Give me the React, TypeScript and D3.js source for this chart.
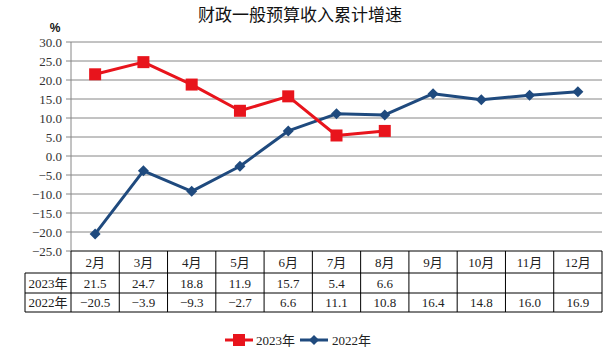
import React from 'react';
import * as d3 from 'd3';

const months = ['2月', '3月', '4月', '5月', '6月', '7月', '8月', '9月', '10月', '11月', '12月'];
const values2023 = [21.5, 24.7, 18.8, 11.9, 15.7, 5.4, 6.6];
const values2022 = [-20.5, -3.9, -9.3, -2.7, 6.6, 11.1, 10.8, 16.4, 14.8, 16.0, 16.9];
const yTicks = [30, 25, 20, 15, 10, 5, 0, -5, -10, -15, -20, -25];

const W = 612;
const H = 351;
const left = 71;
const right = 602;
const top = 42;
const bottom = 251;
const rowH = [22, 20, 19];
const tableLeft = 25;

const font = '"Liberation Serif", "DejaVu Serif", "Noto Sans CJK SC", serif';
const red = '#e8141c';
const blue = '#1f4a7e';

const fmt = (v: number) => (v < 0 ? '\u2212' + Math.abs(v).toFixed(1) : v.toFixed(1));

const App: React.FC = () => {
  const x = d3.scaleBand<string>().domain(months).range([left, right]);
  const y = d3.scaleLinear().domain([-25, 30]).range([bottom, top]);
  const cx = (i: number) => (x(months[i]) as number) + x.bandwidth() / 2;

  const line = d3.line<number>()
    .x((_, i) => cx(i))
    .y(d => y(d));

  const r1 = bottom + rowH[0];
  const r2 = r1 + rowH[1];
  const r3 = r2 + rowH[2];

  const diamond = (px: number, py: number, s: number) =>
    `M${px},${py - s}L${px + s},${py}L${px},${py + s}L${px - s},${py}Z`;

  return (
    <svg width={W} height={H} style={{ position: 'absolute', left: 0, top: 0, background: '#fff' }}>
      <text x={300} y={21} textAnchor="middle" fontSize={17} fontFamily={font} fill="#111">
        财政一般预算收入累计增速
      </text>
      <text x={55} y={32} textAnchor="middle" fontSize={12} fontWeight="bold" fontFamily="Arial, sans-serif" fill="#111">
        %
      </text>

      {/* grid + y axis */}
      {yTicks.map(t => (
        <g key={t}>
          {t !== -25 && (
            <line x1={left} x2={right} y1={y(t)} y2={y(t)} stroke="#868686" strokeWidth={1} />
          )}
          <line x1={left - 5} x2={left} y1={y(t)} y2={y(t)} stroke="#868686" strokeWidth={1} />
          <text x={62} y={y(t) + 4.5} textAnchor="end" fontSize={13} fontFamily={font} fill="#333">
            {fmt(t)}
          </text>
        </g>
      ))}
      <line x1={left} x2={left} y1={top} y2={bottom} stroke="#868686" strokeWidth={1} />

      {/* table */}
      <g stroke="#000" strokeWidth={1} fill="none">
        <line x1={left} x2={right} y1={bottom} y2={bottom} />
        <line x1={tableLeft} x2={right} y1={r1} y2={r1} />
        <line x1={tableLeft} x2={right} y1={r2} y2={r2} />
        <line x1={tableLeft} x2={right} y1={r3} y2={r3} />
        <line x1={tableLeft} x2={tableLeft} y1={r1} y2={r3} />
        {months.map(m => (
          <line key={m} x1={x(m) as number} x2={x(m) as number} y1={bottom} y2={r3} />
        ))}
        <line x1={right} x2={right} y1={bottom} y2={r3} />
      </g>
      <g fontSize={13} fontFamily={font} fill="#222" textAnchor="middle">
        {months.map((m, i) => (
          <text key={m} x={cx(i)} y={bottom + 16}>{m}</text>
        ))}
        <text x={(tableLeft + left) / 2} y={r1 + 15}>2023年</text>
        <text x={(tableLeft + left) / 2} y={r2 + 14}>2022年</text>
        {values2023.map((v, i) => (
          <text key={'a' + i} x={cx(i)} y={r1 + 15}>{fmt(v)}</text>
        ))}
        {values2022.map((v, i) => (
          <text key={'b' + i} x={cx(i)} y={r2 + 14}>{fmt(v)}</text>
        ))}
      </g>

      {/* series */}
      <path d={line(values2022) as string} fill="none" stroke={blue} strokeWidth={3} strokeLinejoin="round" />
      {values2022.map((v, i) => (
        <path key={i} d={diamond(cx(i), y(v), 5.5)} fill={blue} />
      ))}
      <path d={line(values2023) as string} fill="none" stroke={red} strokeWidth={3} strokeLinejoin="round" />
      {values2023.map((v, i) => (
        <rect key={i} x={cx(i) - 6} y={y(v) - 6} width={12} height={12} fill={red} />
      ))}

      {/* legend */}
      <line x1={225} x2={253} y1={340} y2={340} stroke={red} strokeWidth={3} />
      <rect x={233} y={334} width={12} height={12} fill={red} />
      <text x={256} y={345} fontSize={13} fontFamily={font} fill="#222">2023年</text>
      <line x1={300} x2={328} y1={340} y2={340} stroke={blue} strokeWidth={3} />
      <path d={diamond(314, 340, 5)} fill={blue} />
      <text x={332} y={345} fontSize={13} fontFamily={font} fill="#222">2022年</text>
    </svg>
  );
};

export default App;
